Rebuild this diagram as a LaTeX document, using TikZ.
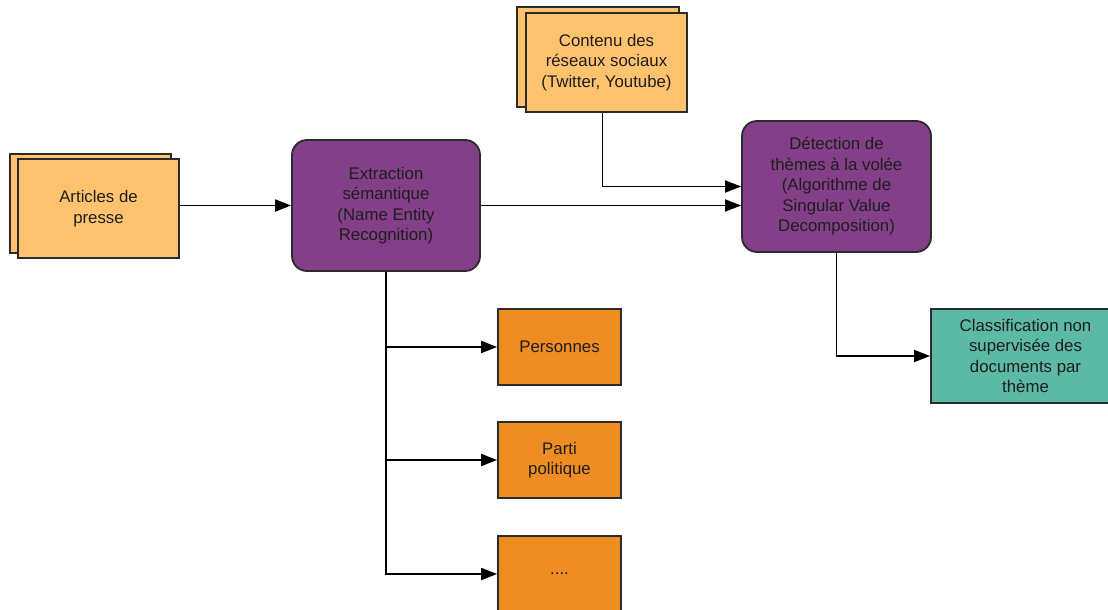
\documentclass[tikz,border=0pt]{standalone}
\usepackage{fontspec}
\setmainfont{Liberation Sans}
\usetikzlibrary{arrows.meta}
\definecolor{lorange}{HTML}{FFC26F}
\definecolor{purp}{HTML}{833F87}
\definecolor{orng}{HTML}{EF8C22}
\definecolor{teal2}{HTML}{5BB9A5}
\definecolor{edge}{HTML}{2B2B2B}
\definecolor{txt}{HTML}{1E1E1E}
\tikzset{
  box/.style={draw=edge, line width=1.8pt, align=center, text=txt, inner sep=2pt,
    font=\fontsize{16.8}{20.5}\selectfont},
  docbox/.style={box, fill=lorange, minimum width=161pt, minimum height=99pt},
  sheet/.style={draw=edge, line width=1.8pt, fill=lorange},
  procbox/.style={box, fill=purp, rounded corners=15pt},
  entbox/.style={box, fill=orng, minimum width=123pt, minimum height=76pt},
  clsbox/.style={box, fill=teal2, minimum width=189pt, minimum height=94pt},
  conn/.style={draw=black, line width=1.8pt, -{Triangle[length=16pt,width=12pt]}},
}
\begin{document}
\begin{tikzpicture}[x=1pt,y=-1pt]
\path[use as bounding box, clip] (0,0) rectangle (1108,610);
\fill[white] (0,0) rectangle (1108,610);
% stacked documents
\draw[sheet] (10,154) rectangle (171,253);
\node[docbox] (art) at (98.5,208.5) {Articles de\\presse};
\draw[sheet] (517,7) rectangle (679,107);
\node[docbox] (con) at (606.5,62.5) {Contenu des\\réseaux sociaux\\(Twitter, Youtube)};
% processes
\node[procbox, minimum width=188pt, minimum height=131pt] (ext) at (386,205.5)
  {Extraction\\sémantique\\(Name Entity\\Recognition)};
\node[procbox, minimum width=189pt, minimum height=131pt] (det) at (836.5,186.5)
  {Détection de\\thèmes à la volée\\(Algorithme de\\Singular Value\\Decomposition)};
% entities
\node[entbox] (per) at (559.5,347) {Personnes};
\node[entbox] (par) at (559.5,460) {Parti\\politique};
\node[entbox] (dots) at (559.5,574) {....};
% classification
\node[clsbox] (cls) at (1025.5,356) {Classification non\\supervisée des\\documents par\\thème};
% connectors
\draw[conn] (ext.west -| art.east) -- (ext.west);
\draw[conn] ([xshift=-4pt]con.south) |- (det.west);
\draw[conn] (ext.east) -- (ext.east -| det.west);
\draw[conn] (det.south) |- (cls.west);
\draw[conn] (ext.south) |- (per.west);
\draw[conn] (ext.south) |- (par.west);
\draw[conn] (ext.south) |- (dots.west);
\end{tikzpicture}
\end{document}
